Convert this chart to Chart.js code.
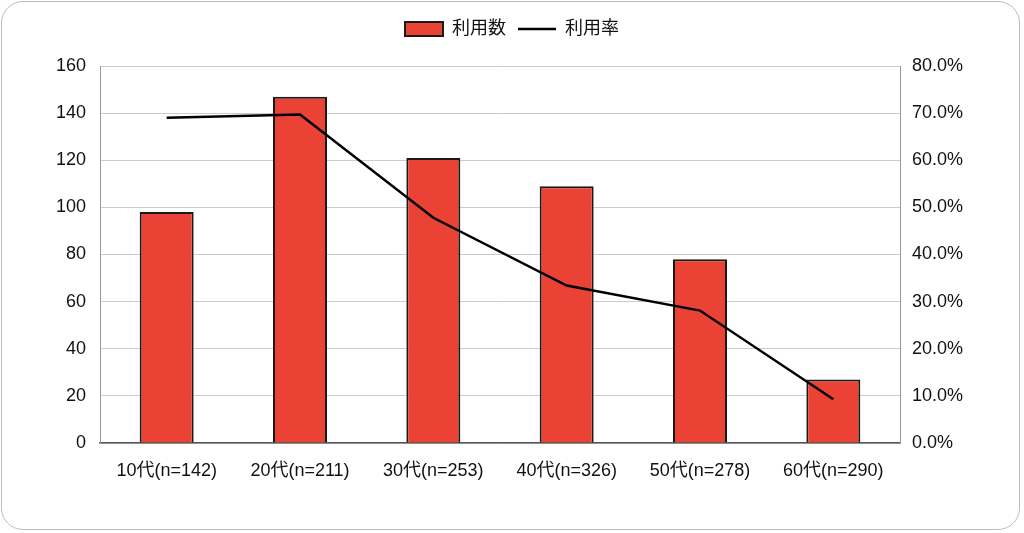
<!DOCTYPE html>
<html>
<head>
<meta charset="utf-8">
<script src="https://cdn.jsdelivr.net/npm/chart.js@4"></script>
<style>
  html, body { margin: 0; padding: 0; background: #fff; }
  #frame {
    position: absolute; left: 1px; top: 1px; width: 1019px; height: 529px;
    border: 1px solid #bdbdbd; border-radius: 22px; box-sizing: border-box;
  }
  #barChart { position: absolute; left: 0; top: 0; }
</style>
</head>
<body>
<div id="frame"></div>
<canvas id="barChart" width="1024" height="533"></canvas>
<script>
const labels = ['10代(n=142)', '20代(n=211)', '30代(n=253)', '40代(n=326)', '50代(n=278)', '60代(n=290)'];
const usage = [98, 147, 121, 109, 78, 27];
const usageRate = [69.0, 69.7, 47.8, 33.4, 28.1, 9.3];

const FONT = "'Liberation Sans', 'Noto Sans CJK JP', Arial, sans-serif";

// give the legend some extra room underneath so the plot starts lower
const legendSpace = {
    id: 'legendSpace',
    beforeLayout(chart) {
        const lg = chart.legend;
        if (lg && !lg._patched) {
            const fit = lg.fit;
            lg.fit = function () { fit.call(this); this.height += 18; };
            lg._patched = true;
        }
    }
};

const ctx = document.getElementById('barChart').getContext('2d');
new Chart(ctx, {
    type: 'bar',
    data: {
        labels: labels,
        datasets: [{
            label: '利用数',
            data: usage,
            backgroundColor: '#ea4335',
            borderColor: '#1a1a1a',
            borderWidth: 2,
            barPercentage: 0.405,
            categoryPercentage: 1,
            yAxisID: 'y',
            order: 1,
            pointStyle: 'rect'
        }, {
            type: 'line',
            label: '利用率',
            data: usageRate,
            borderColor: '#000',
            backgroundColor: '#000',
            borderWidth: 2.5,
            pointRadius: 0,
            tension: 0,
            yAxisID: 'y1',
            order: 0,
            pointStyle: 'line'
        }]
    },
    options: {
        responsive: false,
        animation: false,
        devicePixelRatio: 1,
        layout: { padding: { top: 8, left: 0, right: 0, bottom: 0 } },
        plugins: {
            legend: {
                labels: {
                    usePointStyle: true,
                    pointStyleWidth: 38,
                    boxHeight: 14,
                    color: '#111',
                    padding: 12,
                    font: { family: FONT, size: 18 },
                    sort: (a, b) => a.datasetIndex - b.datasetIndex
                }
            },
            tooltip: { enabled: false }
        },
        scales: {
            x: {
                grid: { display: false },
                border: { color: '#555', width: 1.5 },
                ticks: { color: '#111', padding: 9, maxRotation: 0, font: { family: FONT, size: 18 } },
                afterFit: s => { s.height = 90; }
            },
            y: {
                position: 'left',
                min: 0, max: 160,
                ticks: { stepSize: 20, color: '#111', padding: 14, font: { family: FONT, size: 18 } },
                grid: { color: '#cccccc', drawTicks: false },
                border: { color: '#999' },
                afterFit: s => { s.width = 100; }
            },
            y1: {
                position: 'right',
                min: 0, max: 80,
                ticks: {
                    stepSize: 10, color: '#111', padding: 12,
                    font: { family: FONT, size: 18 },
                    callback: v => v.toFixed(1) + '%'
                },
                grid: { display: false, drawTicks: false },
                border: { color: '#999' },
                afterFit: s => { s.width = 124; }
            }
        }
    },
    plugins: [legendSpace]
});
</script>
</body>
</html>
